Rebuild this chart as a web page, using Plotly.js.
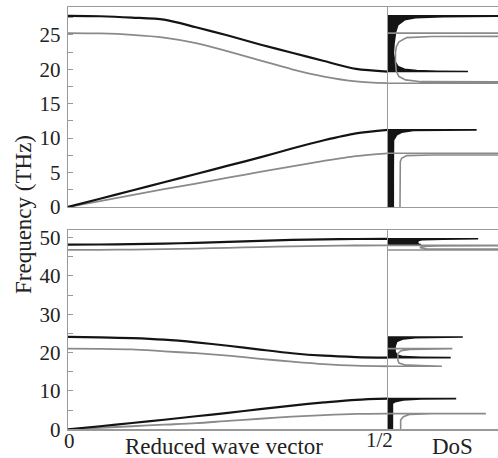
<!DOCTYPE html>
<html>
<head>
<meta charset="utf-8">
<script src="https://cdn.plot.ly/plotly-3.0.1.min.js"></script>
<style>html,body{margin:0;padding:0;background:#fff;}#plot{width:498px;height:458px;}</style>
</head>
<body>
<div id="plot"></div>
<script>
// Reduced wave vector grid (0 .. 1/2)
const k = [0, 0.05, 0.1, 0.15, 0.2, 0.25, 0.3, 0.35, 0.4, 0.45, 0.5];

// Top panel dispersion (THz)
const topOptBlack = [27.76, 27.7, 27.5, 27.2, 26.1, 24.9, 23.6, 22.4, 21.2, 20.05, 19.67];
const topOptGray  = [25.25, 25.2, 25.0, 24.6, 23.8, 22.6, 21.3, 20.0, 18.95, 18.25, 17.98];
const topAcBlack  = [0, 1.2, 2.4, 3.6, 4.8, 6.0, 7.2, 8.5, 9.7, 10.7, 11.2];
const topAcGray   = [0, 0.86, 1.72, 2.58, 3.4, 4.25, 5.1, 5.9, 6.7, 7.4, 7.8];

// Bottom panel dispersion (THz)
const botUpBlack  = [48.2, 48.22, 48.3, 48.45, 48.65, 48.9, 49.15, 49.4, 49.55, 49.65, 49.7];
const botUpGray   = [46.8, 46.82, 46.9, 47.0, 47.15, 47.35, 47.55, 47.72, 47.85, 47.95, 48.0];
const botMidBlack = [24.1, 24.0, 23.8, 23.4, 22.7, 21.8, 20.8, 19.85, 19.2, 18.85, 18.7];
const botMidGray  = [21.05, 21.0, 20.85, 20.35, 19.85, 19.2, 18.4, 17.65, 17.0, 16.6, 16.45];
const botLowBlack = [0, 0.8, 1.65, 2.5, 3.4, 4.3, 5.25, 6.2, 7.0, 7.7, 8.0];
const botLowGray  = [0, 0.4, 0.8, 1.2, 1.6, 2.2, 2.75, 3.3, 3.7, 4.0, 4.1];

// Density of states outlines (dos, frequency)
const dosTopOptBlackX = [0, 0.727, 0.45, 0.26, 0.15, 0.09, 0.064, 0.048, 0.055, 0.07, 0.09, 0.15, 0.25, 0.5, 1.5, 0];
const dosTopOptBlackF = [19.67, 19.67, 19.72, 19.8, 20.0, 20.4, 21.1, 22.3, 23.8, 25.5, 26.45, 27.18, 27.5, 27.65, 27.76, 27.76];
const dosTopOptGrayX  = [0, 1.5, 1.5, 0.3, 0.16, 0.1, 0.076, 0.068, 0.068, 0.076, 0.1, 0.17, 0.4, 1.5, 1.5, 0];
const dosTopOptGrayF  = [17.98, 17.98, 18.15, 18.2, 18.46, 18.94, 19.67, 21.0, 22.5, 23.3, 24.0, 24.6, 24.76, 24.8, 25.25, 25.25];
const dosTopAcBlackX  = [0, 0.048, 0.048, 0.05, 0.079, 0.124, 0.23, 0.45, 0.806, 0];
const dosTopAcBlackF  = [0, 0, 5, 9.7, 10.47, 10.85, 11.1, 11.18, 11.2, 11.2];
const dosTopAcGrayX   = [0.109, 0.109, 0.112, 0.124, 0.17, 0.4, 1.5, 1.5, 0];
const dosTopAcGrayF   = [0, 5, 6.58, 7.07, 7.46, 7.56, 7.56, 7.8, 7.8];

const dosBotUpBlackX  = [0, 0.3, 0.28, 0.27, 0.27, 0.28, 0.32, 0.5, 0.82, 0];
const dosBotUpBlackF  = [48.2, 48.2, 48.3, 48.6, 49.0, 49.3, 49.5, 49.62, 49.7, 49.7];
const dosBotUpGrayX   = [0, 1.5, 1.5, 0.35, 0.29, 0.31, 0.45, 1.5, 1.5, 0];
const dosBotUpGrayF   = [46.8, 46.8, 47.0, 47.1, 47.4, 47.7, 47.85, 47.9, 48.0, 48.0];
const dosBotMidBlackX = [0, 0.57, 0.3, 0.14, 0.079, 0.064, 0.064, 0.079, 0.14, 0.25, 0.4, 0.68, 0];
const dosBotMidBlackF = [18.7, 18.7, 18.8, 18.95, 19.4, 20.3, 21.6, 22.9, 23.6, 23.9, 24.0, 24.1, 24.1];
const dosBotMidGrayX  = [0, 0.49, 0.3, 0.15, 0.1, 0.09, 0.09, 0.12, 0.2, 0.585, 0];
const dosBotMidGrayF  = [16.45, 16.45, 16.65, 16.85, 17.3, 18.0, 19.8, 20.5, 20.85, 21.05, 21.05];
const dosBotLowBlackX = [0, 0.04, 0.04, 0.064, 0.14, 0.3, 0.62, 0];
const dosBotLowBlackF = [0, 0, 6.8, 7.2, 7.65, 7.9, 8.0, 8.0];
const dosBotLowGrayX  = [0.115, 0.115, 0.14, 0.2, 0.4, 0.89, 0];
const dosBotLowGrayF  = [0, 2.4, 3.3, 3.9, 4.05, 4.1, 4.1];

// Tick labels
const topTickVals = [0, 2.5, 5, 7.5, 10, 12.5, 15, 17.5, 20, 22.5, 25, 27.5];
const topTickText = ["0", "", "5", "", "10", "", "15", "", "20", "", "25", ""];
const botTickVals = [0, 5, 10, 15, 20, 25, 30, 35, 40, 45, 50];
const botTickText = ["0", "", "10", "", "20", "", "30", "", "40", "", "50"];
const xTickText = ["0", "1/2"];

const BLACK = '#141414', GRAY = '#8a8a8a', FRAME = '#9a9a9a';
const SERIF = "'Liberation Serif', 'Times New Roman', serif";

function disp(y, color, xa, ya) {
  return {x: k, y: y, mode: 'lines', xaxis: xa, yaxis: ya, hoverinfo: 'skip',
          line: {color: color, width: color === BLACK ? 2.2 : 1.8, shape: 'spline', smoothing: 0.8}};
}
function dosFill(x, f, xa, ya) {
  return {x: x, y: f, mode: 'lines', fill: 'toself', fillcolor: BLACK, xaxis: xa, yaxis: ya,
          hoverinfo: 'skip', line: {color: BLACK, width: 1.6}};
}
function dosLine(x, f, xa, ya) {
  return {x: x, y: f, mode: 'lines', xaxis: xa, yaxis: ya, hoverinfo: 'skip',
          line: {color: GRAY, width: 1.6}};
}

const data = [
  dosFill(dosTopOptBlackX, dosTopOptBlackF, 'x2', 'y2'),
  dosFill(dosTopAcBlackX, dosTopAcBlackF, 'x2', 'y2'),
  dosLine(dosTopOptGrayX, dosTopOptGrayF, 'x2', 'y2'),
  dosLine(dosTopAcGrayX, dosTopAcGrayF, 'x2', 'y2'),
  dosFill(dosBotUpBlackX, dosBotUpBlackF, 'x4', 'y4'),
  dosFill(dosBotMidBlackX, dosBotMidBlackF, 'x4', 'y4'),
  dosFill(dosBotLowBlackX, dosBotLowBlackF, 'x4', 'y4'),
  dosLine(dosBotUpGrayX, dosBotUpGrayF, 'x4', 'y4'),
  dosLine(dosBotMidGrayX, dosBotMidGrayF, 'x4', 'y4'),
  dosLine(dosBotLowGrayX, dosBotLowGrayF, 'x4', 'y4'),
  disp(topOptGray, GRAY, 'x', 'y'),
  disp(topAcGray, GRAY, 'x', 'y'),
  disp(topOptBlack, BLACK, 'x', 'y'),
  disp(topAcBlack, BLACK, 'x', 'y'),
  disp(botUpGray, GRAY, 'x3', 'y3'),
  disp(botMidGray, GRAY, 'x3', 'y3'),
  disp(botLowGray, GRAY, 'x3', 'y3'),
  disp(botUpBlack, BLACK, 'x3', 'y3'),
  disp(botMidBlack, BLACK, 'x3', 'y3'),
  disp(botLowBlack, BLACK, 'x3', 'y3')
];

const W = 498, H = 458;
const xDispDom = [68 / W, 388 / W];
const xDosDom = [388 / W, 1];
const yTopDom = [1 - 207 / H, 1 - 7.3 / H];
const yBotDom = [1 - 429.3 / H, 1 - 230 / H];

function xAx(dom, range, anchor) {
  return {domain: dom, range: range, anchor: anchor, showline: true, mirror: true, linecolor: FRAME,
          linewidth: 1.2, ticks: '', showticklabels: false, showgrid: false, zeroline: false, fixedrange: true};
}
function yAxLab(dom, range, anchor, vals, text) {
  return {domain: dom, range: range, anchor: anchor, showline: true, linecolor: FRAME, linewidth: 1.2,
          tickmode: 'array', tickvals: vals, ticktext: text, ticks: 'inside', ticklen: 5, tickcolor: FRAME,
          tickwidth: 1, ticklabelstandoff: 2,
          tickfont: {family: SERIF, size: 21, color: '#222'}, showgrid: false, zeroline: false, fixedrange: true};
}
function yAxDos(dom, range, anchor) {
  return {domain: dom, range: range, anchor: anchor, showline: true, linecolor: FRAME, linewidth: 1.2,
          ticks: '', showticklabels: false, showgrid: false, zeroline: false, fixedrange: true};
}

const layout = {
  width: W, height: H,
  margin: {l: 0, r: 0, t: 0, b: 0},
  paper_bgcolor: '#fff', plot_bgcolor: 'rgba(0,0,0,0)',
  font: {family: SERIF, color: '#222'},
  showlegend: false,
  xaxis: xAx(xDispDom, [0, 0.5], 'y'),
  yaxis: yAxLab(yTopDom, [0, 29], 'x', topTickVals, topTickText),
  xaxis2: xAx(xDosDom, [0, 1], 'y2'),
  yaxis2: yAxDos(yTopDom, [0, 29], 'x2'),
  xaxis3: xAx(xDispDom, [0, 0.5], 'y3'),
  yaxis3: yAxLab(yBotDom, [0, 52], 'x3', botTickVals, botTickText),
  xaxis4: xAx(xDosDom, [0, 1], 'y4'),
  yaxis4: yAxDos(yBotDom, [0, 52], 'x4'),
  annotations: [
    {text: 'Frequency (THz)', xref: 'paper', yref: 'paper', x: 23 / W, y: 1 - 215 / H, textangle: -90,
     showarrow: false, font: {family: SERIF, size: 23, color: '#222'}, xanchor: 'center', yanchor: 'middle'},
    {text: 'Reduced wave vector', xref: 'paper', yref: 'paper', x: 224 / W, y: 1 - 446 / H,
     showarrow: false, font: {family: SERIF, size: 23, color: '#222'}, xanchor: 'center', yanchor: 'middle'},
    {text: xTickText[0], xref: 'x3', yref: 'paper', x: k[0], y: 1 - 441 / H, xshift: 1,
     showarrow: false, font: {family: SERIF, size: 21, color: '#222'}, xanchor: 'center', yanchor: 'middle'},
    {text: xTickText[1], xref: 'x3', yref: 'paper', x: k[k.length - 1], y: 1 - 440 / H, xshift: -9,
     showarrow: false, font: {family: SERIF, size: 21, color: '#222'}, xanchor: 'center', yanchor: 'middle'},
    {text: 'DoS', xref: 'paper', yref: 'paper', x: 452 / W, y: 1 - 446 / H,
     showarrow: false, font: {family: SERIF, size: 23, color: '#222'}, xanchor: 'center', yanchor: 'middle'}
  ]
};

Plotly.newPlot('plot', data, layout, {staticPlot: true, displayModeBar: false});
</script>
</body>
</html>
